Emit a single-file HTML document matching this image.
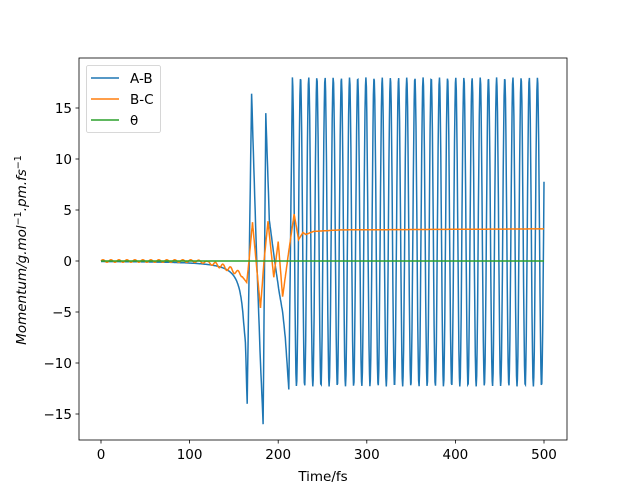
<!DOCTYPE html>
<html><head><meta charset="utf-8"><style>
html,body{margin:0;padding:0;background:#fff;}
svg text{font-family:"DejaVu Sans","Liberation Sans",sans-serif;font-size:13.5px;fill:#000;}
</style></head><body>
<svg id="s" width="629" height="496" viewBox="0 0 629 496" xmlns="http://www.w3.org/2000/svg">
<rect x="0" y="0" width="629" height="496" fill="#fff"/>
<g id="plot"></g>
<rect x="79" y="58" width="488" height="382" fill="none" stroke="#000" stroke-width="0.8"/>
<g id="ticks"></g>
<text x="323" y="481" text-anchor="middle">Time/fs</text>
<text transform="translate(26,250) rotate(-90)" text-anchor="middle" font-style="italic">Momentum/g.mol<tspan font-style="normal" font-size="9.5" dy="-5">−1</tspan><tspan dy="5">.pm.fs</tspan><tspan font-style="normal" font-size="9.5" dy="-5">−1</tspan></text>
<rect x="86.5" y="65.5" width="74" height="67" rx="2" fill="#fff" fill-opacity="0.8" stroke="#ccc" stroke-width="0.8"/>
<line x1="91" y1="78" x2="119" y2="78" stroke="#1f77b4" stroke-width="1.5"/>
<line x1="91" y1="99" x2="119" y2="99" stroke="#ff7f0e" stroke-width="1.5"/>
<line x1="91" y1="120" x2="119" y2="120" stroke="#2ca02c" stroke-width="1.5"/>
<text x="130" y="83">A-B</text>
<text x="130" y="104">B-C</text>
<text x="130" y="125">θ</text>
</svg>
<script>
var X=function(t){return 101+t*0.886;},Y=function(v){return 261-v*10.2;};
function interp(k,t){for(var i=0;i<k.length-1;i++){if(t>=k[i][0]&&t<=k[i+1][0]){var f=(t-k[i][0])/(k[i+1][0]-k[i][0]);return k[i][1]+f*(k[i+1][1]-k[i][1]);}}return k[k.length-1][1];}
var bk=[[160,-5],[163,-8],[165,-14],[170,16.4],[175,2],[180,-10],[183,-16],[186,14.5],[190,4],[196,0],[201,-3],[205,-5],[208,-7.5],[212,-12.6],[216,17.6]];
var ok=[[160,-1.6],[164.5,-2.1],[167,0],[171,3.8],[175,0],[180,-4.6],[184,0],[188.5,3.9],[195,-1.6],[200,1.9],[205,-3.5],[212,1],[218,4.6],[223,2.1],[228,2.8],[231,2.6],[240,2.9],[270,3.05],[500,3.15]];
var b="",o="";
for(var t=0;t<=500;t+=0.5){
 var vb,vo;
 if(t<160){vb=-113/Math.pow(168-t,1.5);}
 else if(t<216){vb=interp(bk,t);}
 else{vb=2.85+15.15*Math.cos(2*Math.PI*(t-216)/9.22);}
 if(t<160){vo=0.13*Math.sin(2*Math.PI*t/9)-(t>100?Math.pow((t-100)/60,2)*1.4:0)+(t>120?0.12*Math.sin(2*Math.PI*t/8):0);}
 else vo=interp(ok,t);
 b+=(t?"L":"M")+X(t).toFixed(1)+","+Y(vb).toFixed(1);
 o+=(t?"L":"M")+X(t).toFixed(1)+","+Y(vo).toFixed(1);
}
var g=document.getElementById("plot");
g.innerHTML='<path d="'+b+'" fill="none" stroke="#1f77b4" stroke-width="1.5"/>'+
'<path d="'+o+'" fill="none" stroke="#ff7f0e" stroke-width="1.5"/>'+
'<line x1="'+X(0)+'" y1="261" x2="'+X(500)+'" y2="261" stroke="#2ca02c" stroke-width="1.5"/>';
var tk="";
for(var i=0;i<=5;i++){var x=X(i*100);tk+='<line x1="'+x+'" y1="440" x2="'+x+'" y2="443.5" stroke="#000" stroke-width="0.8"/><text x="'+x+'" y="459" text-anchor="middle">'+(i*100)+'</text>';}
for(var v=-15;v<=15;v+=5){var y=Y(v);tk+='<line x1="75.5" y1="'+y+'" x2="79" y2="'+y+'" stroke="#000" stroke-width="0.8"/><text x="72" y="'+(y+5)+'" text-anchor="end">'+(v<0?'−'+(-v):v)+'</text>';}
document.getElementById("ticks").innerHTML=tk;
</script>
</body></html>
